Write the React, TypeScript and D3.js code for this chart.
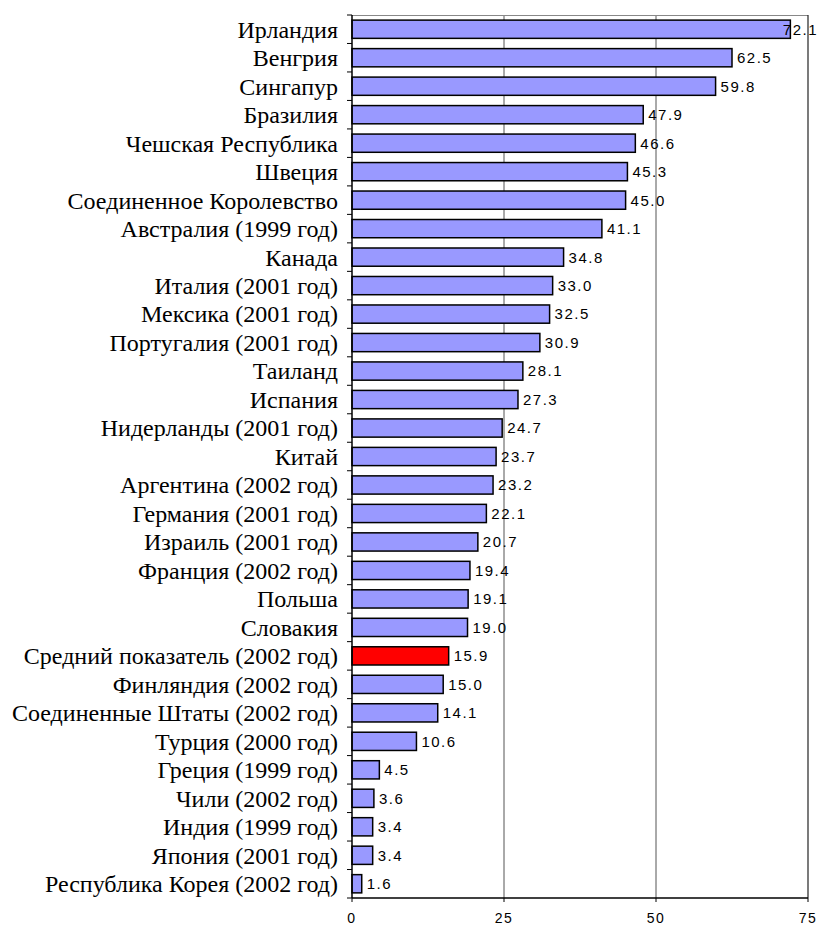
import React, { useRef, useEffect } from 'react';
import * as d3 from 'd3';

// categories top to bottom
const categories = [
  'Ирландия', 'Венгрия', 'Сингапур', 'Бразилия', 'Чешская Республика', 'Швеция',
  'Соединенное Королевство', 'Австралия (1999 год)', 'Канада', 'Италия (2001 год)',
  'Мексика (2001 год)', 'Португалия (2001 год)', 'Таиланд', 'Испания',
  'Нидерланды (2001 год)', 'Китай', 'Аргентина (2002 год)', 'Германия (2001 год)',
  'Израиль (2001 год)', 'Франция (2002 год)', 'Польша', 'Словакия',
  'Средний показатель (2002 год)', 'Финляндия (2002 год)', 'Соединенные Штаты (2002 год)',
  'Турция (2000 год)', 'Греция (1999 год)', 'Чили (2002 год)', 'Индия (1999 год)',
  'Япония (2001 год)', 'Республика Корея (2002 год)',
];
const values = [
  72.1, 62.5, 59.8, 47.9, 46.6, 45.3, 45.0, 41.1, 34.8, 33.0, 32.5, 30.9, 28.1, 27.3,
  24.7, 23.7, 23.2, 22.1, 20.7, 19.4, 19.1, 19.0, 15.9, 15.0, 14.1, 10.6, 4.5, 3.6,
  3.4, 3.4, 1.6,
];
const highlighted = ['Средний показатель (2002 год)'];
const xTicks = [0, 25, 50, 75];

const W = 818;
const H = 926;
const margin = { top: 15, right: 10, bottom: 28, left: 352 };

const App = () => {
  const ref = useRef<SVGSVGElement>(null);

  useEffect(() => {
    const svg = d3.select(ref.current);
    svg.selectAll('*').remove();
    const width = W - margin.left - margin.right;
    const height = H - margin.top - margin.bottom;

    const g = svg.append('g').attr('transform', `translate(${margin.left},${margin.top})`);

    const x = d3.scaleLinear().domain([0, 75]).range([0, width]);
    const y = d3.scaleBand().domain(categories).range([0, height]).paddingInner(0.36).paddingOuter(0.18);
    const step = y.step();

    // grid lines
    g.selectAll('.grid')
      .data(xTicks.slice(1, -1))
      .enter().append('line')
      .attr('x1', d => x(d)).attr('x2', d => x(d))
      .attr('y1', 0).attr('y2', height)
      .attr('stroke', '#555').attr('stroke-width', 1);

    // frame top and right
    g.append('line').attr('x1', 0).attr('x2', width).attr('y1', 0.5).attr('y2', 0.5)
      .attr('stroke', '#888');
    g.append('line').attr('x1', width).attr('x2', width).attr('y1', 0).attr('y2', height)
      .attr('stroke', '#222').attr('stroke-width', 1.2);

    // bars
    g.selectAll('.bar')
      .data(categories)
      .enter().append('rect')
      .attr('x', 0)
      .attr('y', d => y(d)!)
      .attr('width', (d, i) => x(values[i]))
      .attr('height', y.bandwidth())
      .attr('fill', d => (highlighted.includes(d) ? '#ff0000' : '#9999ff'))
      .attr('stroke', '#000')
      .attr('stroke-width', 1.5);

    // value labels, pulled back inside the svg when they would overflow
    g.selectAll('.val')
      .data(categories)
      .enter().append('text')
      .attr('y', d => y(d)! + y.bandwidth() / 2)
      .attr('dy', '0.36em')
      .attr('font-family', 'Liberation Sans, Arial, sans-serif')
      .attr('font-size', 15)
      .attr('letter-spacing', '1.5px')
      .attr('fill', '#000')
      .text((d, i) => values[i].toFixed(1))
      .attr('x', function (d, i) {
        const len = (this as SVGTextElement).getComputedTextLength();
        return Math.min(x(values[i]) + 5, W - margin.left - len);
      });

    // left axis
    g.append('line').attr('x1', 0).attr('x2', 0).attr('y1', 0).attr('y2', height)
      .attr('stroke', '#000').attr('stroke-width', 1.5);
    g.selectAll('.ltick')
      .data(d3.range(categories.length + 1))
      .enter().append('line')
      .attr('x1', -5).attr('x2', 0)
      .attr('y1', i => i * step).attr('y2', i => i * step)
      .attr('stroke', '#000');
    g.selectAll('.cat')
      .data(categories)
      .enter().append('text')
      .attr('x', -14)
      .attr('y', d => y(d)! + y.bandwidth() / 2)
      .attr('dy', '0.35em')
      .attr('text-anchor', 'end')
      .attr('font-family', 'Liberation Serif, Times New Roman, serif')
      .attr('font-size', 24)
      .attr('fill', '#000')
      .text(d => d);

    // bottom axis
    g.append('line').attr('x1', 0).attr('x2', width).attr('y1', height).attr('y2', height)
      .attr('stroke', '#000').attr('stroke-width', 1.5);
    g.selectAll('.btick')
      .data(xTicks)
      .enter().append('line')
      .attr('x1', d => x(d)).attr('x2', d => x(d))
      .attr('y1', height).attr('y2', height + 4)
      .attr('stroke', '#000');
    g.selectAll('.blab')
      .data(xTicks)
      .enter().append('text')
      .attr('x', d => x(d))
      .attr('y', height + 25)
      .attr('text-anchor', 'middle')
      .attr('font-family', 'Liberation Sans, Arial, sans-serif')
      .attr('font-size', 14)
      .attr('letter-spacing', '1.5px')
      .attr('fill', '#000')
      .text(d => d);
  }, []);

  return (
    <svg ref={ref} width={W} height={H}
      style={{ position: 'absolute', left: 0, top: 0, background: '#fff' }} />
  );
};

export default App;
